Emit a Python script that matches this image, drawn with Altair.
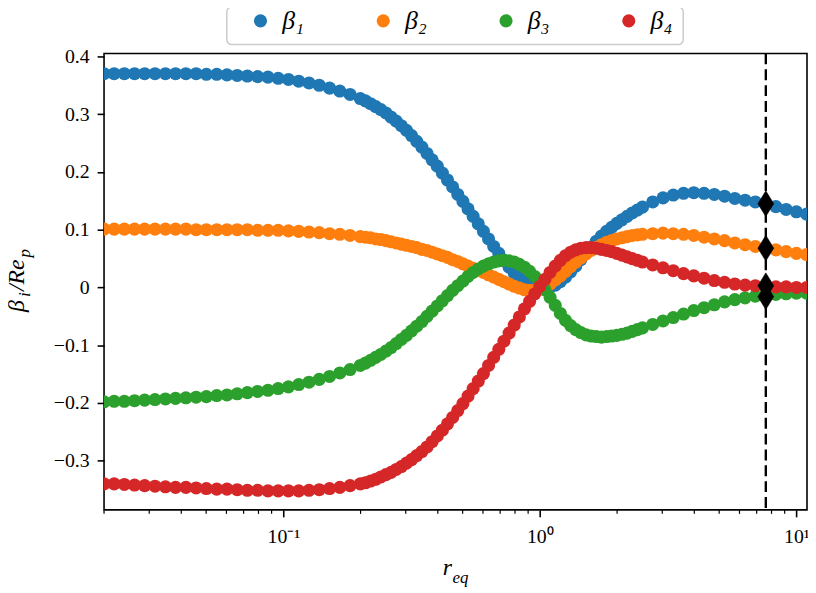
import altair as alt
import pandas as pd

# ---------------- data ----------------
r_eq = [0.0200, 0.0219, 0.0240, 0.0263, 0.0288, 0.0316, 0.0347, 0.0380, 0.0417, 0.0457,
        0.0501, 0.0550, 0.0603, 0.0661, 0.0724, 0.0794, 0.0871, 0.0955, 0.1047, 0.1148,
        0.1259, 0.1380, 0.1514, 0.1660, 0.1820, 0.1995,
        0.2089, 0.2188, 0.2291, 0.2399, 0.2512, 0.2630, 0.2754, 0.2884, 0.3020, 0.3162,
        0.3311, 0.3467, 0.3631, 0.3802, 0.3981, 0.4169, 0.4365, 0.4571, 0.4786, 0.5012,
        0.5248, 0.5495, 0.5754, 0.6026, 0.6310, 0.6607, 0.6918, 0.7244, 0.7586, 0.7943,
        0.8318, 0.8710, 0.9120, 0.9550, 1.000, 1.047, 1.096, 1.148, 1.202, 1.259,
        1.318, 1.380, 1.445, 1.514, 1.585, 1.660, 1.738, 1.820, 1.905, 1.995,
        2.089, 2.188, 2.291, 2.399, 2.512,
        2.754, 3.020, 3.311, 3.631, 3.981, 4.365, 4.786, 5.248, 5.754, 6.310,
        6.918, 7.586, 8.318, 9.120, 10.00, 10.96]

beta1 = [0.370, 0.370, 0.370, 0.370, 0.370, 0.370, 0.370, 0.370, 0.370, 0.370,
         0.369, 0.369, 0.368, 0.367, 0.366, 0.365, 0.364, 0.362, 0.360, 0.357,
         0.354, 0.350, 0.345, 0.340, 0.334, 0.327,
         0.323, 0.318, 0.313, 0.308, 0.302, 0.295, 0.288, 0.280, 0.272, 0.263,
         0.253, 0.243, 0.232, 0.221, 0.210, 0.198, 0.186, 0.174, 0.161, 0.149,
         0.136, 0.123, 0.110, 0.097, 0.084, 0.071, 0.059, 0.047, 0.035, 0.025,
         0.016, 0.009, 0.004, 0.001, -0.001, -0.001, 0.001, 0.004, 0.010, 0.018,
         0.027, 0.037, 0.048, 0.059, 0.070, 0.080, 0.089, 0.097, 0.104, 0.111,
         0.117, 0.123, 0.129, 0.134, 0.139,
         0.148, 0.155, 0.160, 0.163, 0.164, 0.163, 0.161, 0.158, 0.154, 0.151,
         0.148, 0.145, 0.140, 0.135, 0.131, 0.127]

beta2 = [0.101, 0.101, 0.101, 0.101, 0.101, 0.101, 0.101, 0.101, 0.101, 0.100,
         0.100, 0.100, 0.100, 0.100, 0.100, 0.099, 0.099, 0.099, 0.098, 0.097,
         0.096, 0.095, 0.093, 0.092, 0.090, 0.088,
         0.087, 0.086, 0.084, 0.083, 0.081, 0.079, 0.077, 0.075, 0.073, 0.071,
         0.069, 0.066, 0.064, 0.061, 0.058, 0.055, 0.052, 0.048, 0.045, 0.041,
         0.037, 0.033, 0.030, 0.026, 0.022, 0.018, 0.014, 0.010, 0.006, 0.002,
         -0.001, -0.004, -0.005, -0.005, -0.003, 0.001, 0.006, 0.013, 0.020, 0.028,
         0.036, 0.044, 0.051, 0.058, 0.064, 0.069, 0.074, 0.078, 0.081, 0.084,
         0.086, 0.088, 0.090, 0.091, 0.092,
         0.093, 0.094, 0.093, 0.092, 0.090, 0.087, 0.084, 0.081, 0.077, 0.074,
         0.071, 0.068, 0.065, 0.062, 0.059, 0.057]

beta3 = [-0.198, -0.197, -0.197, -0.196, -0.195, -0.194, -0.193, -0.192, -0.191, -0.190,
         -0.189, -0.187, -0.186, -0.184, -0.182, -0.180, -0.178, -0.175, -0.172, -0.168,
         -0.164, -0.159, -0.154, -0.148, -0.142, -0.135,
         -0.131, -0.126, -0.121, -0.116, -0.110, -0.104, -0.097, -0.090, -0.083, -0.075,
         -0.067, -0.059, -0.050, -0.041, -0.032, -0.023, -0.014, -0.005, 0.003, 0.011,
         0.019, 0.026, 0.032, 0.037, 0.041, 0.044, 0.046, 0.047, 0.046, 0.044,
         0.040, 0.035, 0.028, 0.019, 0.008, -0.004, -0.017, -0.031, -0.045, -0.057,
         -0.066, -0.073, -0.078, -0.082, -0.084, -0.085, -0.086, -0.085, -0.084, -0.083,
         -0.081, -0.079, -0.076, -0.073, -0.070,
         -0.064, -0.058, -0.052, -0.046, -0.040, -0.035, -0.030, -0.025, -0.021, -0.018,
         -0.015, -0.013, -0.012, -0.011, -0.010, -0.010]

beta4 = [-0.340, -0.340, -0.341, -0.342, -0.343, -0.344, -0.345, -0.346, -0.346, -0.347,
         -0.348, -0.349, -0.349, -0.350, -0.351, -0.351, -0.352, -0.352, -0.352, -0.352,
         -0.351, -0.350, -0.348, -0.346, -0.343, -0.340,
         -0.338, -0.335, -0.332, -0.328, -0.324, -0.320, -0.315, -0.310, -0.304, -0.298,
         -0.291, -0.284, -0.276, -0.267, -0.257, -0.247, -0.236, -0.225, -0.213, -0.201,
         -0.188, -0.175, -0.162, -0.149, -0.135, -0.121, -0.107, -0.093, -0.079, -0.065,
         -0.051, -0.037, -0.024, -0.011, 0.002, 0.014, 0.026, 0.037, 0.047, 0.055,
         0.061, 0.065, 0.068, 0.069, 0.069, 0.068, 0.066, 0.064, 0.062, 0.059,
         0.056, 0.053, 0.050, 0.047, 0.044,
         0.039, 0.034, 0.029, 0.024, 0.020, 0.016, 0.012, 0.009, 0.006, 0.004,
         0.003, 0.002, 0.001, 0.001, 0.000, 0.000]

series_names = ["β₁", "β₂", "β₃", "β₄"]
series_colors = ["#1f77b4", "#ff7f0e", "#2ca02c", "#d62728"]

marker_r = [7.6]
diamond_vals = [0.145, 0.068, -0.016, 0.003]

x_major = [0.1, 1, 10]
x_minor = [0.02, 0.03, 0.04, 0.05, 0.06, 0.07, 0.08, 0.09,
           0.2, 0.3, 0.4, 0.5, 0.6, 0.7, 0.8, 0.9,
           2, 3, 4, 5, 6, 7, 8, 9]
y_ticks = [-0.3, -0.2, -0.1, 0, 0.1, 0.2, 0.3, 0.4]

for s in (beta1, beta2, beta3, beta4):
    assert len(s) == len(r_eq)

# ---------------- tables ----------------
rows = []
k = 0
for name, ys_ in zip(series_names, [beta1, beta2, beta3, beta4]):
    for xv, yv in zip(r_eq, ys_):
        rows.append({"r": xv, "beta": yv, "series": name, "idx": k})
        k += 1
df = pd.DataFrame(rows)
df_diam = pd.DataFrame({"r": marker_r * len(diamond_vals), "beta": diamond_vals})
df_vline = pd.DataFrame({"r": marker_r})
df_minor = pd.DataFrame({"r": x_minor})
one = pd.DataFrame({"a": [0]})

W, H = 710, 461
SERIF = "Liberation Serif"

xs = alt.Scale(type="log", domain=[0.02, 11], nice=False)
ys = alt.Scale(domain=[-0.385, 0.405], nice=False, zero=False)

x_axis = alt.Axis(values=x_major, title=None, grid=False, domain=False,
                  tickSize=7, tickWidth=1.6, tickColor="black",
                  labelFont=SERIF, labelFontSize=20, labelColor="black", labelPadding=10,
                  labelExpr="datum.value < 0.5 ? '10⁻¹' : (datum.value < 5 ? '10⁰' : '10¹')")
y_axis = alt.Axis(values=y_ticks, title=None, grid=False, domain=False,
                  tickSize=7, tickWidth=1.6, tickColor="black",
                  labelFont=SERIF, labelFontSize=20, labelColor="black", labelPadding=8,
                  labelExpr="datum.value == 0 ? '0' : format(datum.value, '.1f')")

frame = alt.Chart(one).mark_rect(
    fill="white", fillOpacity=0.8, stroke="#cccccc", strokeWidth=1.5, cornerRadius=5
).encode(x=alt.value(124), x2=alt.value(585), y=alt.value(-47), y2=alt.value(-9))

points = alt.Chart(df).mark_circle(size=175, opacity=1, clip=True).encode(
    x=alt.X("r:Q", scale=xs, axis=x_axis),
    y=alt.Y("beta:Q", scale=ys, axis=y_axis),
    color=alt.Color("series:N",
                    scale=alt.Scale(domain=series_names, range=series_colors),
                    legend=alt.Legend(orient="none", legendX=145, legendY=-46,
                                      direction="horizontal", title=None,
                                      symbolType="circle", symbolSize=177,
                                      symbolOpacity=1, symbolStrokeWidth=0,
                                      labelFont=SERIF, labelFontSize=26,
                                      labelFontStyle="italic", labelColor="black",
                                      labelOffset=9, columnPadding=67, padding=0)),
    order=alt.Order("idx:Q"),
)

minor = alt.Chart(df_minor).mark_rule(color="black", strokeWidth=1.2).encode(
    x=alt.X("r:Q", scale=xs, axis=x_axis), y=alt.value(H), y2=alt.value(H + 4))

vline = alt.Chart(df_vline).mark_rule(color="black", strokeWidth=2.4, strokeDash=[11, 5]).encode(
    x=alt.X("r:Q", scale=xs, axis=x_axis))

diamonds = alt.Chart(df_diam).mark_point(
    shape="M0,-1L0.62,0L0,1L-0.62,0Z", filled=True, fill="black", stroke="black",
    strokeWidth=0.5, size=676, opacity=1
).encode(x=alt.X("r:Q", scale=xs, axis=x_axis), y=alt.Y("beta:Q", scale=ys, axis=y_axis))

def txt(s, x, y, size, angle=0):
    return alt.Chart(one).mark_text(
        text=s, font=SERIF, fontSize=size, fontStyle="italic", color="black",
        align="left", baseline="alphabetic", angle=angle
    ).encode(x=alt.value(x), y=alt.value(y))

titles = [
    txt("r", 342, 527, 24),
    txt("eq", 352, 535, 17),
    txt("β", -81, 261, 24, 270),
    txt("i", -75, 246, 17, 270),
    txt("/Re", -81, 240, 24, 270),
    txt("p", -75, 206, 17, 270),
]

chart = alt.layer(frame, points, minor, vline, diamonds, *titles).properties(
    width=W, height=H,
    autosize=alt.AutoSizeParams(type="none"),
    padding={"left": 97, "top": 43, "right": 1, "bottom": 81},
).configure_view(stroke="black", strokeWidth=1.6)

chart.save("out.html", embed_options={"renderer": "svg", "actions": False})
